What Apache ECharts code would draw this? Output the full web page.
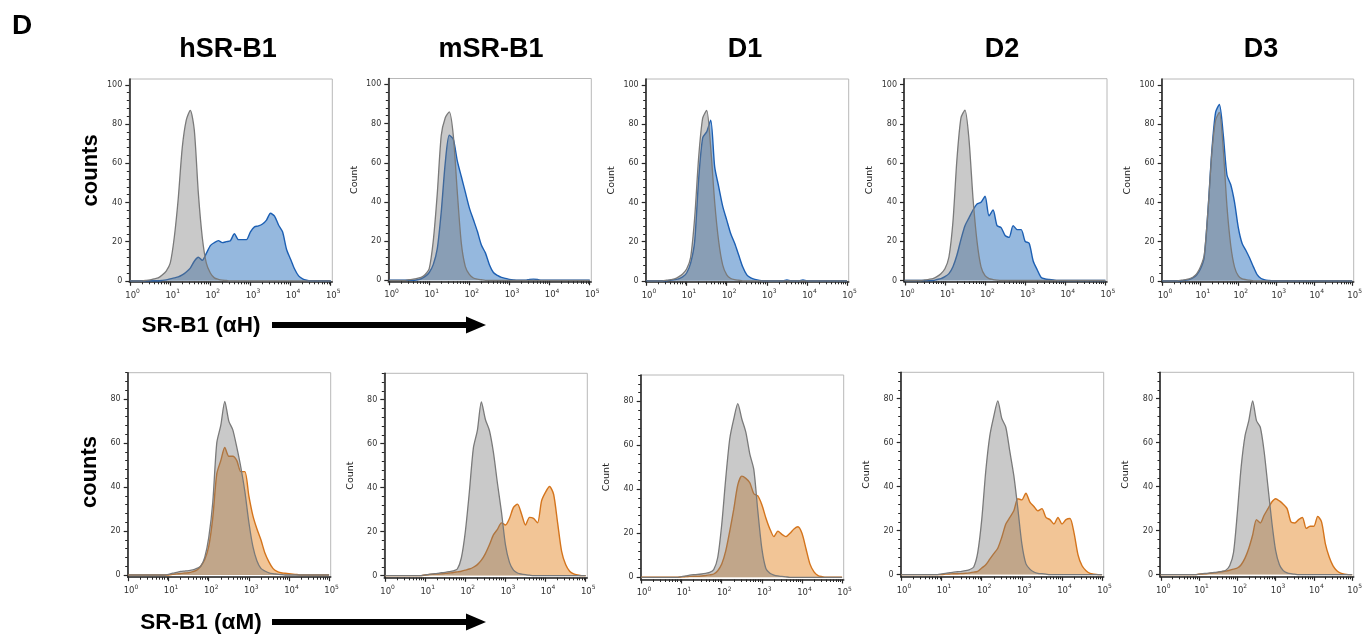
<!DOCTYPE html>
<html><head><meta charset="utf-8">
<script src="https://cdn.jsdelivr.net/npm/echarts@6/dist/echarts.min.js"></script>
<style>html,body{margin:0;padding:0;background:#fff}#c{width:1365px;height:635px}</style>
</head><body><div id="c"></div><script>
// log10(fluorescence) bin positions
const LOG_X = [0.0,0.1,0.2,0.3,0.4,0.5,0.6,0.7,0.8,0.9,1.0,1.1,1.2,1.3,1.4,1.5,1.6,1.7,1.8,1.9,2.0,2.1,2.2,2.3,2.4,2.5,2.6,2.7,2.8,2.9,3.0,3.1,3.2,3.3,3.4,3.5,3.6,3.7,3.8,3.9,4.0,4.1,4.2,4.3,4.4,4.5,4.6,4.7,4.8,4.9,5.0];
const COLUMN_TITLES = ['hSR-B1','mSR-B1','D1','D2','D3'];
const DECADES = [0,1,2,3,4,5];
const DECADE_EXP = ['0','1','2','3','4','5'];
const MINOR_MULT = [2,3,4,5,6,7,8,9];
const Y_TICKS_TOP = [0,20,40,60,80,100];
const Y_TICKS_BOTTOM = [0,20,40,60,80];

// top row: anti-human SR-B1 staining (gray = control, blue = stained)
const grayTop1 = [0,0,0,0,0.2,0.5,1,1.5,3,5, 9,22,42,68,82,87,77,45,22,9, 4,1.5,0.8,0.4,0.2,0,0,0,0,0, 0,0,0,0,0,0,0,0,0,0, 0,0,0,0,0,0,0,0,0,0, 0];
const blueTop1 = [0,0,0,0,0,0,0,0,0.2,0.5, 1,1.5,2,3,4.5,6.5,10,12,10.5,14, 18,19.5,20.5,19.5,20,20.5,24,21,21,21, 25,27.5,28,29,31,34.5,33,28.5,25,16, 11,6,2.5,1,0.3,0,0,0,0,0, 0];
const grayTop2 = [0,0,0,0,0,0.3,0.6,1,1.5,3, 6,20,44,74,83,86,74,45,19,7, 3,1.2,0.6,0.3,0,0,0,0,0,0, 0,0,0,0,0,0,0,0,0,0, 0,0,0,0,0,0,0,0,0,0, 0];
const blueTop2 = [0,0,0,0,0,0,0,0.3,0.8,2, 4,8,16,35,60,74,72,61,53,45, 37,31,25,18,14,8,4,2.5,1.5,1, 0.5,0.2,0,0,0,0.5,0.6,0.4,0,0, 0,0,0,0,0,0,0,0,0,0, 0];
const grayTop3 = [0,0,0,0,0,0.3,0.6,1,2,3.5, 6,12,32,63,83,87,68,40,20,8, 3,1.2,0.6,0.3,0,0,0,0,0,0, 0,0,0,0,0,0,0,0,0,0, 0,0,0,0,0,0,0,0,0,0, 0];
const blueTop3 = [0,0,0,0,0,0,0.3,0.6,1,2, 4,9,20,52,73,76,82,58,48,38, 31,24,19,13,7,3,1.5,0.7,0.3,0, 0,0,0,0,0,0.4,0,0,0,0.4, 0,0,0,0,0,0,0,0,0,0, 0];
const grayTop4 = [0,0,0,0,0,0.3,0.6,1,2,3.5, 6,12,30,62,83,87,72,42,20,7, 2.5,1,0.5,0.2,0,0,0,0,0,0, 0,0,0,0,0,0,0,0,0,0, 0,0,0,0,0,0,0,0,0,0, 0];
const blueTop4 = [0,0,0,0,0,0,0,0,0.5,1, 2,3.5,7,13,21,28,32,36,39,40, 43,33,36,28,27,23,22,28,26,26, 20,19,10,5.5,1.5,0.8,0.5,0.3,0,0, 0,0,0,0,0,0,0,0,0,0, 0];
const grayTop5 = [0,0,0,0,0,0.3,0.6,1,1.8,3.5, 7,13,36,65,82,86,68,38,18,7, 2.5,1,0.6,0.3,0,0,0,0,0,0, 0,0,0,0,0,0,0,0,0,0, 0,0,0,0,0,0,0,0,0,0, 0];
const blueTop5 = [0,0,0,0,0,0,0.3,0.6,1.5,3, 6,12,36,66,86,90,75,54,49,40, 27,19,15.5,11.5,7,3,1.2,0.5,0.2,0, 0,0,0,0,0,0,0,0,0,0, 0,0,0,0,0,0,0,0,0,0, 0];

// bottom row: anti-mouse SR-B1 staining (gray = control, orange = stained)
const grayBot1 = [0,0,0,0,0,0,0,0,0,0, 0.3,0.8,1.2,1.6,1.8,2,2.3,3,4,8, 17,33,60,68,79,70,66,58,49,38, 24,13,6.5,3,1.8,1,0.6,0.4,0.2,0, 0,0,0,0,0,0,0,0,0,0, 0];
const orangeBot1 = [0,0,0,0,0,0,0,0,0,0, 0,0.3,0.5,0.7,0.9,1,1.5,2.2,4,7, 13,26,46,52,58,54,54,52,47,47, 36,27,21,16,10,6,3,1.6,1,0.8, 0.6,0.4,0.2,0,0,0,0,0,0,0, 0];
const grayBot2 = [0,0,0,0,0,0,0,0,0,0, 0.3,0.6,0.8,1,1.3,1.5,1.8,2.2,3,8, 20,38,58,66,79,71,66,56,42,29, 14,6,2.5,1.2,0.7,0.4,0.2,0,0,0, 0,0,0,0,0,0,0,0,0,0, 0];
const orangeBot2 = [0,0,0,0,0,0,0,0,0,0, 0.3,0.5,0.6,0.7,0.8,1,1.2,1.4,1.7,2, 2.5,3,3.8,5,7,10,14,18.5,21,24, 23,26,31,32.5,28,23,26.5,26,24,34, 38,40.5,37,24,11,5,2,0.8,0.3,0, 0];
const grayBot3 = [0,0,0,0,0,0,0,0,0,0, 0.3,0.6,1,1.2,1.3,1.5,1.8,2.2,3.5,9, 24,45,63,72,79,72,66,56,49,30, 13,4,1.8,1,0.6,0.4,0.2,0,0,0, 0,0,0,0,0,0,0,0,0,0, 0];
const orangeBot3 = [0,0,0,0,0,0,0,0,0,0, 0.2,0.3,0.4,0.5,0.5,0.6,0.8,1.1,1.5,3, 6,12,21,31,42,46,45,43,38,37, 33,27,22,18.5,21,19.5,18.5,20,22,23, 20,13,6,2.5,0.8,0.3,0,0,0,0, 0];
const grayBot4 = [0,0,0,0,0,0,0,0,0,0, 0.3,0.6,0.9,1.1,1.3,1.5,1.8,2.3,3.5,10, 25,47,63,72,79,71,67,56,45,30, 14,5,2.5,1.2,0.6,0.4,0.2,0,0,0, 0,0,0,0,0,0,0,0,0,0, 0];
const orangeBot4 = [0,0,0,0,0,0,0,0,0,0, 0,0.2,0.3,0.4,0.4,0.5,0.6,0.8,1.1,1.5, 3,4.5,7,9.5,12,17,23,26,29,34.5, 34,37,33,31,29,30,26,25,23,26, 23,25,25.5,19,9,4,1.8,0.6,0.2,0, 0];
const grayBot5 = [0,0,0,0,0,0,0,0,0,0, 0.2,0.4,0.6,0.8,1,1.2,1.5,2,4,10, 28,49,63,70,79,70,67,56,40,24, 11,4.5,1.8,0.8,0.4,0.2,0,0,0,0, 0,0,0,0,0,0,0,0,0,0, 0];
const orangeBot5 = [0,0,0,0,0,0,0,0,0,0, 0.2,0.3,0.4,0.6,0.8,1,1.3,1.6,2,2.5, 3,4.5,7.5,12,18,25,23.5,27,30,33, 34.5,33.5,32,30,24,23.5,25,26,21,22, 22,26.5,24,14,8,4,1.8,0.7,0.2,0, 0];

const topCtrl = [grayTop1,grayTop2,grayTop3,grayTop4,grayTop5];
const topStain = [blueTop1,blueTop2,blueTop3,blueTop4,blueTop5];
const botCtrl = [grayBot1,grayBot2,grayBot3,grayBot4,grayBot5];
const botStain = [orangeBot1,orangeBot2,orangeBot3,orangeBot4,orangeBot5];

const MINOR_X = [];
DECADES.slice(0,5).forEach(d => MINOR_MULT.forEach(m => MINOR_X.push(d + Math.log10(m))));
const MINOR_Y_TOP = []; for (let v = 4; v <= 100; v += 4) if (v % 20) MINOR_Y_TOP.push(v);
const MINOR_Y_BOT = []; for (let v = 4; v <= 92; v += 4) if (v % 20) MINOR_Y_BOT.push(v);

// layout (pixels)
const TOP_LEFT = [129.3, 388.3, 645.7, 904, 1161.7];
const TOP_TOPS = [79, 78.5, 79, 78.7, 79];
const BOT_LEFT = [127.7, 384.3, 640.7, 900.7, 1160];
const BOT_TOPS = [372.7, 373.3, 375, 372.3, 372.3];

const AX = '#262626';
const grids = [], xAxes = [], yAxes = [], series = [];
function pair(arr){ return LOG_X.map((x,i)=>[x, arr[i]]); }

function addPanel(k, left, top, height, ymin, ymax, yTicks, yMinor, ctrl, stain, stainLine, stainFill, bigName) {
  grids.push({left:left, top:top, width:203, height:height, show:true, borderColor:'#b8b8b8', borderWidth:1, backgroundColor:'transparent'});
  xAxes.push({gridIndex:k, type:'value', min:-0.02, max:5.04, position:'bottom',
    axisLine:{show:true, onZero:false, lineStyle:{color:AX, width:1.6}},
    axisTick:{show:true, customValues:DECADES, length:4, lineStyle:{color:AX, width:1.2}},
    axisLabel:{show:true, customValues:DECADES, margin:8,
      formatter:(v)=>'{b|10}{s|' + DECADE_EXP[Math.round(v)] + '}',
      padding:[0,0,0,5],
      rich:{
        b:{fontSize:8.5, color:'#333', fontFamily:'DejaVu Sans', verticalAlign:'bottom', lineHeight:10},
        s:{fontSize:6, color:'#333', fontFamily:'DejaVu Sans', verticalAlign:'bottom', padding:[0,0,5,0], lineHeight:7}
      }},
    splitLine:{show:false}});
  xAxes.push({gridIndex:k, type:'value', min:-0.02, max:5.04, position:'bottom',
    axisLine:{show:false, onZero:false},
    axisTick:{show:true, customValues:MINOR_X, length:2.5, lineStyle:{color:AX, width:1}},
    axisLabel:{show:false}, splitLine:{show:false}});
  const yMain = {gridIndex:k, type:'value', min:ymin, max:ymax, position:'left',
    axisLine:{show:true, onZero:false, lineStyle:{color:AX, width:1.6}},
    axisTick:{show:true, customValues:yTicks, length:4, lineStyle:{color:AX, width:1.2}},
    axisLabel:{show:true, customValues:yTicks, fontSize:8, color:'#333', margin:7, fontFamily:'DejaVu Sans'},
    splitLine:{show:false}};
  if (bigName) {
    yMain.name = 'counts'; yMain.nameLocation = 'middle'; yMain.nameGap = 27;
    yMain.nameTextStyle = {fontSize:22, fontWeight:'bold', color:'#000', fontFamily:'Liberation Sans', padding: bigName === 1 ? [0,0,0,20] : [0,0,0,6]};
  } else {
    yMain.name = 'Count'; yMain.nameLocation = 'middle'; yMain.nameGap = 29;
    yMain.nameTextStyle = {fontSize:9.5, color:'#222', fontFamily:'DejaVu Sans'};
  }
  yAxes.push(yMain);
  yAxes.push({gridIndex:k, type:'value', min:ymin, max:ymax, position:'left',
    axisLine:{show:false, onZero:false},
    axisTick:{show:true, customValues:yMinor, length:2.5, lineStyle:{color:AX, width:1}},
    axisLabel:{show:false}, splitLine:{show:false}});
  series.push({type:'line', xAxisIndex:2*k, yAxisIndex:2*k, data:pair(stain), showSymbol:false, smooth:0.25, z:2,
    lineStyle:{color:stainLine, width:1.4}, areaStyle:{color:stainFill, opacity:1}, silent:true});
  series.push({type:'line', xAxisIndex:2*k, yAxisIndex:2*k, data:pair(ctrl), showSymbol:false, smooth:0.25, z:3,
    lineStyle:{color:'#7a7a7a', width:1.3}, areaStyle:{color:'rgba(120,120,120,0.4)', opacity:1}, silent:true});
}

for (let i = 0; i < 5; i++) {
  addPanel(i, TOP_LEFT[i], TOP_TOPS[i], 202.8, -0.5, 103, Y_TICKS_TOP, MINOR_Y_TOP, topCtrl[i], topStain[i], '#1c5fb3', '#95b8de', i === 0 ? 1 : 0);
}
for (let i = 0; i < 5; i++) {
  addPanel(5+i, BOT_LEFT[i], BOT_TOPS[i], 204.5, -1, 92, Y_TICKS_BOTTOM, MINOR_Y_BOT, botCtrl[i], botStain[i], '#d4741c', '#f2c596', i === 0 ? 2 : 0);
}

const TITLE_X = [228, 491, 745, 1002, 1261];
const graphic = [
  {type:'text', x:22, y:26, style:{text:'D', font:'bold 28px "Liberation Sans"', fill:'#000', textAlign:'center', textVerticalAlign:'middle', align:'center', verticalAlign:'middle'}}
];
COLUMN_TITLES.forEach((t,i)=>graphic.push({type:'text', x:TITLE_X[i], y:50, style:{text:t, font:'bold 27px "Liberation Sans"', fill:'#000', textAlign:'center', textVerticalAlign:'middle', align:'center', verticalAlign:'middle'}}));
function arrow(label, y) {
  graphic.push({type:'text', x:201, y:y+1, style:{text:label, font:'bold 22.5px "Liberation Sans"', fill:'#000', textAlign:'center', textVerticalAlign:'middle', align:'center', verticalAlign:'middle'}});
  graphic.push({type:'rect', shape:{x:272, y:y-3, width:198, height:6}, style:{fill:'#000'}});
  graphic.push({type:'polygon', shape:{points:[[466,y-8.5],[486,y],[466,y+8.5]]}, style:{fill:'#000'}});
}
arrow('SR-B1 (\u03B1H)', 325);
arrow('SR-B1 (\u03B1M)', 622);

const chart = echarts.init(document.getElementById('c'));
chart.setOption({backgroundColor:'#fff', animation:false, grid:grids, xAxis:xAxes, yAxis:yAxes, series:series, graphic:graphic});
</script></body></html>
